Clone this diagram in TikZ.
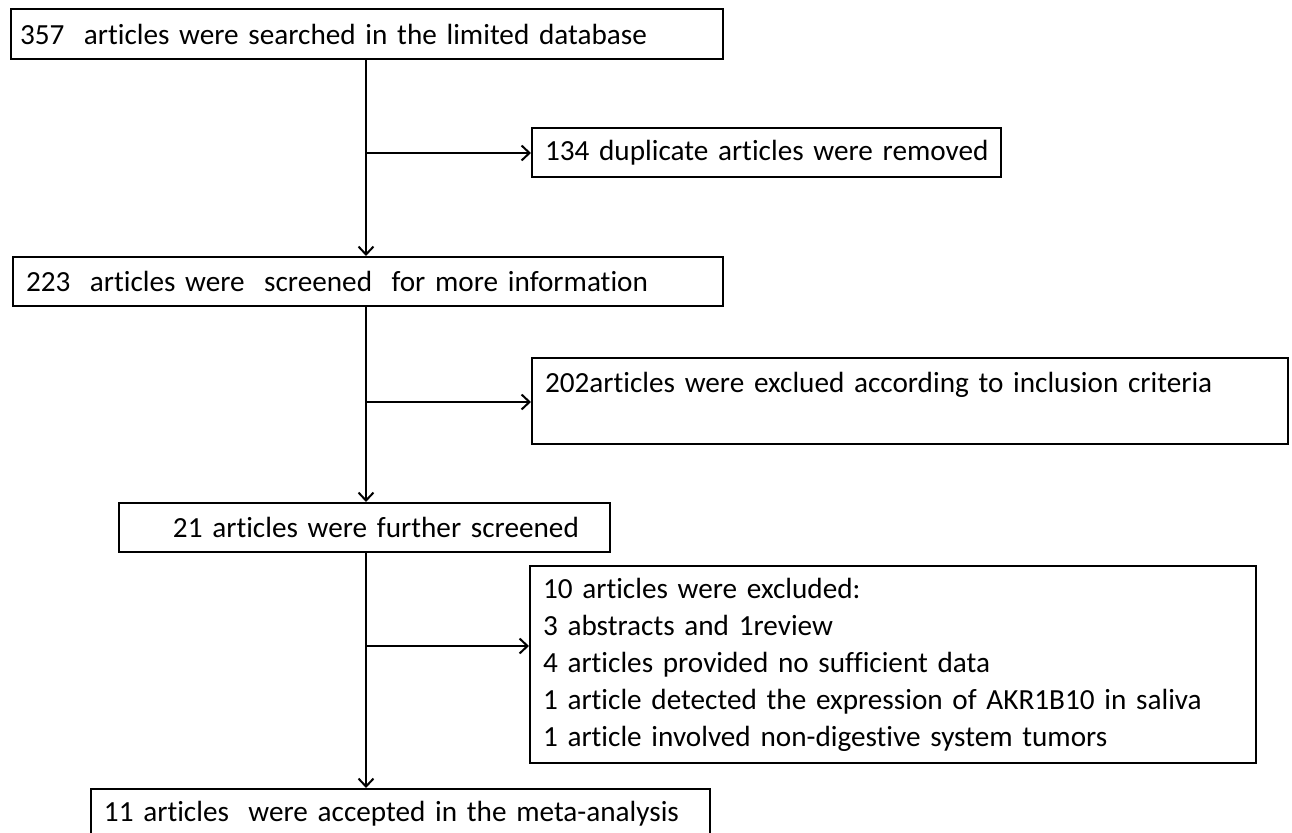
\documentclass[tikz,border=0pt]{standalone}
\usepackage{fontspec}
\setmainfont{Carlito}[Ligatures=NoCommon]
\usetikzlibrary{arrows.meta}

\begin{document}
\begin{tikzpicture}[x=0.5pt,y=-0.5pt,
  box/.style={draw, line width=1pt, anchor=north west, inner xsep=6.5pt, inner ysep=0pt,
    align=left, font=\fontsize{14.6}{18.5}\selectfont},
  arr/.style={line width=1pt, -{Straight Barb[length=4pt,width=7.5pt]}}]
\useasboundingbox (0,0) rectangle (1292,833);
% main column
\node [box, text width=347pt, inner xsep=4.5pt, minimum height=25pt] (b1) at (10,8)
  {357~ articles were searched in the limited database};
\node [box, text width=342pt, minimum height=24.5pt] (b2) at (12,256)
  {223~ articles were~ screened~ for more information};
\node [box, text width=232.5pt, minimum height=24.5pt] (b3) at (118,502)
  {\hspace*{20.5pt}21 articles were further screened};
\node [box, text width=296.5pt, minimum height=25pt] (b4) at (90,788)
  {11 articles~ were accepted in the meta-analysis};
% excluded
\node [box, text width=221.5pt, minimum height=24.5pt] (dup) at (531,127)
  {\mbox{134 duplicate articles were removed}};
\node [box, text width=365pt, minimum height=43pt] (ex1) at (531,357)
  {202articles were exclued according to inclusion criteria\\~};
\node [box, text width=350pt, minimum height=98.5pt] (ex2) at (529,565)
  {10 articles were excluded:\\
   3 abstracts and 1review\\
   4 articles provided no sufficient data\\
   1 article detected the expression of AKR1B10 in saliva\\
   1 article involved non-digestive system tumors};

\coordinate (s1) at (366,153);
\coordinate (s2) at (366,402);
\coordinate (s3) at (366,646);
\draw [arr] (b1.south -| s1) -- (b2.north -| s1);
\draw [arr] (b2.south -| s2) -- (b3.north -| s2);
\draw [arr] (b3.south -| s3) -- (b4.north -| s3);
\draw [arr] (s1) -- (s1 -| dup.west);
\draw [arr] (s2) -- (s2 -| ex1.west);
\draw [arr] (s3) -- (s3 -| ex2.west);
\end{tikzpicture}
\end{document}
